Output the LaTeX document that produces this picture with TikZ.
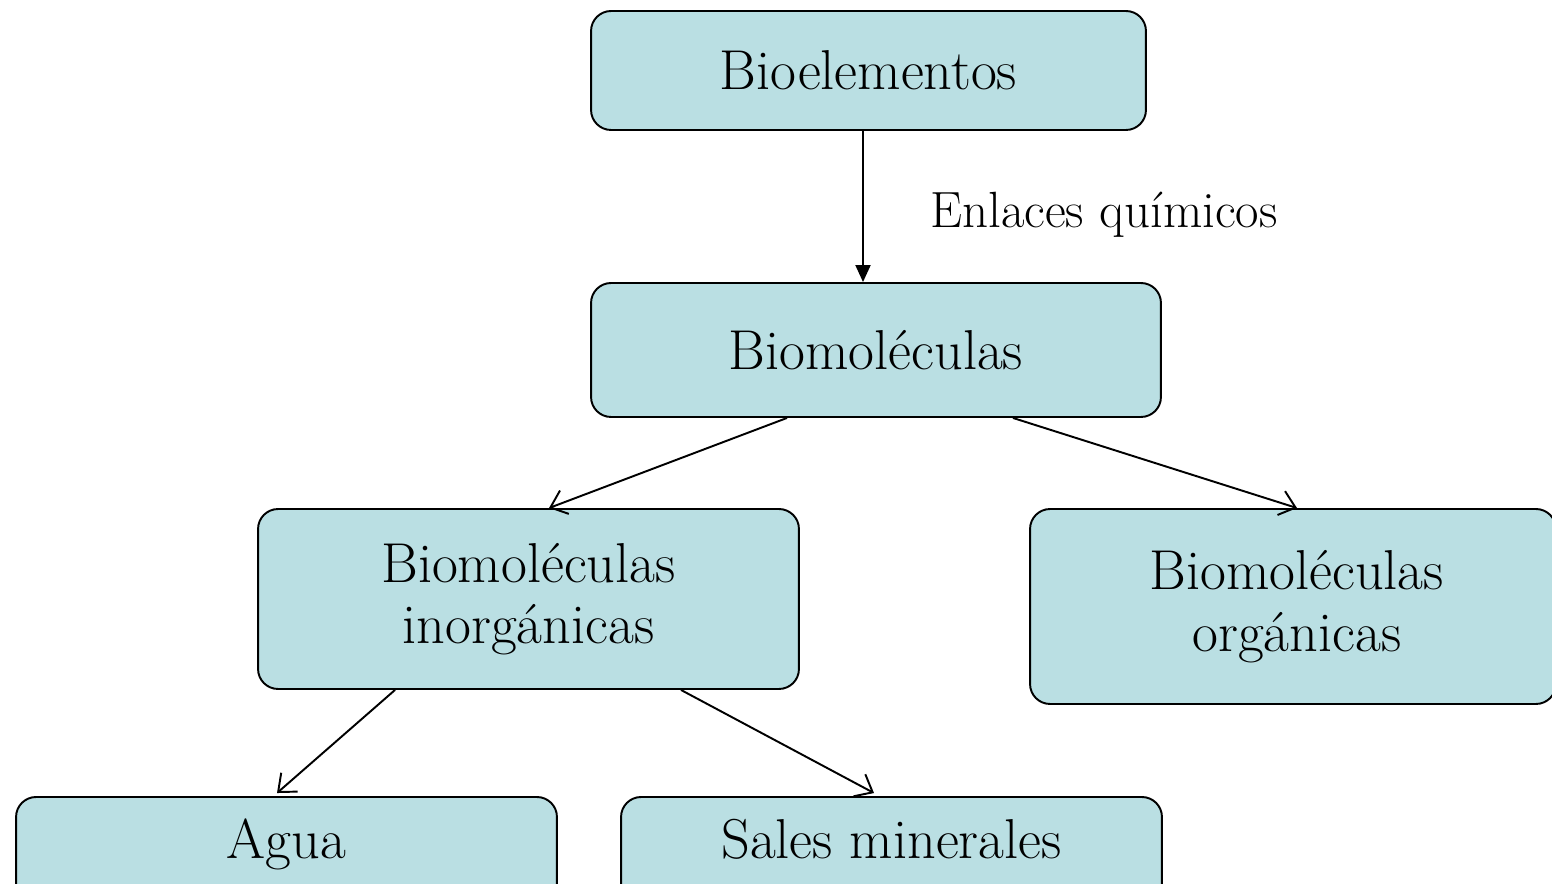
\documentclass[tikz,border=0pt]{standalone}
\usetikzlibrary{arrows.meta}
\definecolor{boxfill}{HTML}{BADFE3}
\begin{document}
\begin{tikzpicture}[x=0.02cm,y=-0.02cm,
  box/.style={draw=black, line width=1.1pt, fill=boxfill, rounded corners=0.4cm,
    inner sep=0pt, align=center, font=\fontsize{32}{35}\selectfont},
  boxtext/.style={font=\fontsize{32}{35}\selectfont, anchor=base, inner sep=0pt},
  conn/.style={line width=1.1pt, -{Straight Barb[length=0.3cm,width=0.5cm]}},
  mainconn/.style={line width=1.1pt, -{Triangle[length=0.34cm,width=0.3cm]}}]
\useasboundingbox (0,0) rectangle (1552,884);
\node[box, minimum width=11.1cm, minimum height=2.38cm] (bio) at (868.5,70.5) {Bioelementos};
\node[box, minimum width=11.4cm, minimum height=2.68cm] (bm) at (876,350) {Biomoléculas};
\node[box, minimum width=10.82cm, minimum height=3.6cm] (inorg) at (528.5,599) {Biomoléculas\\inorgánicas};
\node[box, minimum width=10.52cm, minimum height=3.9cm] (org) at (1293,606.5) {\hspace*{0.15cm}Biomoléculas\\\hspace*{0.15cm}orgánicas};
\node[box, minimum width=10.82cm, minimum height=2.16cm] (agua) at (286.5,851) {};
\node[box, minimum width=10.82cm, minimum height=2.16cm] (sales) at (891.5,851) {};
\node[boxtext] (aguat) at (286.5,858) {Agua};
\node[boxtext] (salest) at (891.5,858) {Sales minerales};
\node[font=\fontsize{29}{32}\selectfont, anchor=west, inner sep=0pt] (enl) at (930,215) {Enlaces químicos};
\draw[mainconn] ([xshift=-0.11cm]bio.south) -- ([xshift=-0.26cm]bm.north);
\draw[conn] ([xshift=-1.78cm]bm.south) -- ([xshift=0.41cm]inorg.north);
\draw[conn] ([xshift=2.74cm]bm.south) -- ([xshift=0.08cm]org.north);
\draw[conn] ([xshift=-2.67cm]inorg.south) -- ([xshift=-0.19cm,yshift=0.06cm]agua.north);
\draw[conn] ([xshift=3.05cm]inorg.south) -- ([xshift=-0.35cm,yshift=0.06cm]sales.north);
\end{tikzpicture}
\end{document}
